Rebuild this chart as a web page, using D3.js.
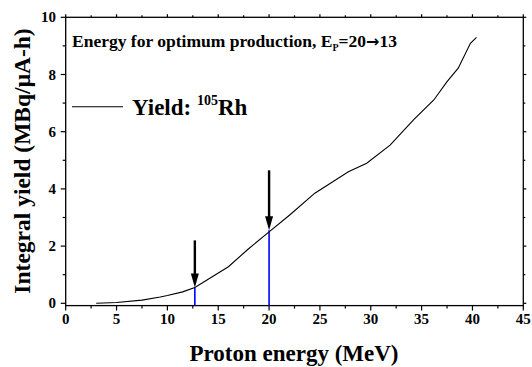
<!DOCTYPE html>
<html>
<head>
<meta charset="utf-8">
<script src="https://cdn.jsdelivr.net/npm/d3@7"></script>
<style>
  body { margin: 0; background: #fff; }
  text { font-family: "Liberation Serif", "Times New Roman", serif; font-weight: bold; }
</style>
</head>
<body>
<svg id="chart" width="532" height="367"></svg>
<script>
// yield curve for 105Rh
var energy = [3.0, 5.0, 7.5, 9.3, 10.0, 11.5, 12.7, 16.0, 17.9, 20.0, 22.0, 24.5, 27.8, 29.6, 31.9, 34.2, 36.2, 37.5, 38.6, 39.8, 40.4];
var yieldVals = [0.0, 0.03, 0.11, 0.22, 0.27, 0.4, 0.55, 1.28, 1.88, 2.5, 3.08, 3.85, 4.6, 4.9, 5.53, 6.41, 7.11, 7.75, 8.22, 9.09, 9.3];

// optimum energy window markers
var markerE = [12.7, 20.0];
var markerY = [0.55, 2.55];
var arrowTop = [2.2, 4.65];

var xTicks = [0, 5, 10, 15, 20, 25, 30, 35, 40, 45];
var yTicks = [0, 2, 4, 6, 8, 10];

var svg = d3.select("#chart");

var plotL = 65.7, plotR = 523.3, plotT = 17.3, plotB = 305.6;

var x = d3.scaleLinear().domain([0, 45]).range([plotL, plotR]);
var y = d3.scaleLinear().domain([0, 10]).range([303.3, plotT]);

// frame
svg.append("rect")
    .attr("x", plotL).attr("y", plotT)
    .attr("width", plotR - plotL).attr("height", plotB - plotT)
    .attr("fill", "none").attr("stroke", "#000").attr("stroke-width", 1.3);

// x ticks (bottom and top, outward)
d3.range(0, 45.1, 2.5).forEach(function (v)
{
    var major = v % 5 === 0;
    svg.append("line").attr("x1", x(v)).attr("x2", x(v))
        .attr("y1", plotB).attr("y2", plotB + (major ? 5 : 3))
        .attr("stroke", "#000").attr("stroke-width", 1.2);
    svg.append("line").attr("x1", x(v)).attr("x2", x(v))
        .attr("y1", plotT).attr("y2", plotT - (major ? 3 : 2))
        .attr("stroke", "#000").attr("stroke-width", 1.2);
});

// y ticks (left and right, outward)
d3.range(0, 10.1, 1).forEach(function (v)
{
    var major = v % 2 === 0;
    svg.append("line").attr("x1", plotL).attr("x2", plotL - (major ? 5 : 3))
        .attr("y1", y(v)).attr("y2", y(v))
        .attr("stroke", "#000").attr("stroke-width", 1.2);
    svg.append("line").attr("x1", plotR).attr("x2", plotR + (major ? 3 : 2))
        .attr("y1", y(v)).attr("y2", y(v))
        .attr("stroke", "#000").attr("stroke-width", 1.2);
});

svg.append("g").selectAll("text")
    .data(xTicks)
    .enter().append("text")
    .attr("x", function (d) { return x(d); })
    .attr("y", 324)
    .attr("text-anchor", "middle")
    .attr("font-size", 15)
    .text(function (d) { return d; });

svg.append("g").selectAll("text")
    .data(yTicks)
    .enter().append("text")
    .attr("x", 56)
    .attr("y", function (d) { return y(d) + 5; })
    .attr("text-anchor", "end")
    .attr("font-size", 15)
    .text(function (d) { return d; });

// axis titles
svg.append("text")
    .attr("x", 294).attr("y", 361)
    .attr("text-anchor", "middle")
    .attr("font-size", 23)
    .text("Proton energy (MeV)");

svg.append("text")
    .attr("transform", "translate(30,161) rotate(-90)")
    .attr("text-anchor", "middle")
    .attr("font-size", 23.5)
    .text("Integral yield (MBq/\u03bcA-h)");

// blue drop lines
svg.append("g").selectAll("line")
    .data(markerE)
    .enter().append("line")
    .attr("x1", function (d) { return x(d); })
    .attr("x2", function (d) { return x(d); })
    .attr("y1", function (d, i) { return y(markerY[i]); })
    .attr("y2", plotB)
    .attr("stroke", "#0000ff").attr("stroke-width", 1.6);

// curve
var line = d3.line()
    .x(function (d) { return x(d[0]); })
    .y(function (d) { return y(d[1]); });

svg.append("path")
    .datum(d3.zip(energy, yieldVals))
    .attr("d", line)
    .attr("fill", "none")
    .attr("stroke", "#000")
    .attr("stroke-width", 1.1);

// arrows
markerE.forEach(function (e, i)
{
    var ax = x(e), tip = y(markerY[i]), topY = y(arrowTop[i]);
    svg.append("line")
        .attr("x1", ax).attr("x2", ax)
        .attr("y1", topY).attr("y2", tip - 10)
        .attr("stroke", "#000").attr("stroke-width", 2.4);
    svg.append("path")
        .attr("d", "M" + (ax - 4) + "," + (tip - 14) + "L" + (ax + 4) + "," + (tip - 14) + "L" + ax + "," + tip + "Z")
        .attr("fill", "#000");
});

// annotation
var note = svg.append("text")
    .attr("x", 72).attr("y", 47)
    .attr("font-size", 17.5);
note.append("tspan").text("Energy for optimum production, E");
note.append("tspan").attr("font-size", 10).attr("dy", 4).text("P");
note.append("tspan").attr("dy", -4).text("=20");
note.append("tspan").attr("font-family", "DejaVu Sans").attr("font-size", 16).text("\u2192");
note.append("tspan").text("13");

// legend
svg.append("line")
    .attr("x1", 72).attr("x2", 123)
    .attr("y1", 106.7).attr("y2", 106.7)
    .attr("stroke", "#000").attr("stroke-width", 1.1);

var leg = svg.append("text")
    .attr("x", 132).attr("y", 115)
    .attr("font-size", 23);
leg.append("tspan").text("Yield: ");
leg.append("tspan").attr("font-size", 14).attr("dy", -10).text("105");
leg.append("tspan").attr("dy", 10).text("Rh");
</script>
</body>
</html>
